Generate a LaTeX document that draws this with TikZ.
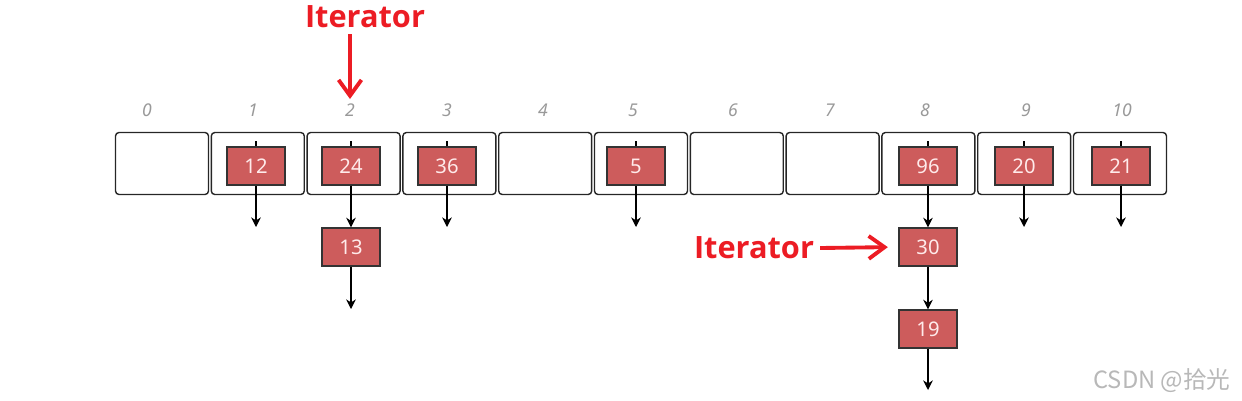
\documentclass[tikz,border=0pt]{standalone}
\usepackage{fontspec}
\setmainfont{Noto Sans}
\newfontfamily\boldsans{Open Sans}
\newfontfamily\cjkfont{Noto Sans CJK SC}
\usetikzlibrary{positioning, arrows.meta}
\definecolor{cellred}{HTML}{CD5C5C}
\definecolor{itred}{HTML}{EC1C24}
\tikzset{
  bucket/.style = {draw=black!85, rectangle, rounded corners=2pt,
                   line width=0.8pt, minimum width=1.86cm,
                   minimum height=1.24cm, inner sep=0pt},
  cell/.style   = {draw=black!80, fill=cellred, rectangle,
                   line width=0.7pt, minimum width=1.16cm,
                   minimum height=0.76cm, inner sep=0pt,
                   text=white!92!red, font=\fontsize{11.5}{13}\selectfont},
  idx/.style    = {text=black!40, font=\itshape\fontsize{10}{11}\selectfont},
  arr/.style    = {-{Stealth[length=5.5pt,width=5.5pt]}, line width=0.7pt},
  stub/.style   = {line width=0.7pt},
  itarr/.style  = {-{Straight Barb[length=9pt,width=13pt]}, draw=itred,
                   line width=2.2pt},
  itlbl/.style  = {text=itred, font=\boldsans\bfseries\fontsize{17.5}{20}\selectfont},
}

\begin{document}
\begin{tikzpicture}[x=0.02cm, y=-0.02cm]

% ────────────────────────────────────────────────────────────
%  Pixel grid: 1242 x 400, y grows downwards
%   index labels : y = 110
%   buckets      : y = 163.5
%   first cells  : y = 166
%   chain row 2  : y = 247
%   chain row 3  : y = 329
% ────────────────────────────────────────────────────────────
\useasboundingbox (0,0) rectangle (1242,400);

% ═══════════════════════════════════════════════════════════
%  BUCKET ARRAY
% ═══════════════════════════════════════════════════════════
\node[bucket] (b0)  at (162.0, 163.5)  {};
\node[bucket] (b1)  at (257.8, 163.5)  {};
\node[bucket] (b2)  at (353.6, 163.5)  {};
\node[bucket] (b3)  at (449.4, 163.5)  {};
\node[bucket] (b4)  at (545.2, 163.5)  {};
\node[bucket] (b5)  at (641.0, 163.5)  {};
\node[bucket] (b6)  at (736.8, 163.5)  {};
\node[bucket] (b7)  at (832.6, 163.5)  {};
\node[bucket] (b8)  at (928.4, 163.5)  {};
\node[bucket] (b9)  at (1024.2, 163.5) {};
\node[bucket] (b10) at (1120.0, 163.5) {};

\node[idx] (l0)  at (147, 110)  {0};
\node[idx] (l1)  at (253, 110)  {1};
\node[idx] (l2)  at (350, 110)  {2};
\node[idx] (l3)  at (447, 110)  {3};
\node[idx] (l4)  at (543, 110)  {4};
\node[idx] (l5)  at (633, 110)  {5};
\node[idx] (l6)  at (733, 110)  {6};
\node[idx] (l7)  at (830, 110)  {7};
\node[idx] (l8)  at (925, 110)  {8};
\node[idx] (l9)  at (1026, 110) {9};
\node[idx] (l10) at (1122, 110) {10};

% ═══════════════════════════════════════════════════════════
%  FIRST NODES IN THE BUCKETS
% ═══════════════════════════════════════════════════════════
\node[cell] (n12) at (256, 166)  {12};
\node[cell] (n24) at (351, 166)  {24};
\node[cell] (n36) at (447, 166)  {36};
\node[cell] (n5)  at (636, 166)  {5};
\node[cell] (n96) at (928, 166)  {96};
\node[cell] (n20) at (1024, 166) {20};
\node[cell] (n21) at (1121, 166) {21};

\draw[stub] (n12.north) -- ++(0,-5);
\draw[stub] (n24.north) -- ++(0,-5);
\draw[stub] (n36.north) -- ++(0,-5);
\draw[stub] (n5.north)  -- ++(0,-5);
\draw[stub] (n96.north) -- ++(0,-5);
\draw[stub] (n20.north) -- ++(0,-5);
\draw[stub] (n21.north) -- ++(0,-5);

% ═══════════════════════════════════════════════════════════
%  CHAINED NODES
% ═══════════════════════════════════════════════════════════
\node[cell] (n13) at (351, 247) {13};
\node[cell] (n30) at (928, 247) {30};
\node[cell] (n19) at (928, 329) {19};

% free ends of the chains
\coordinate (e12) at (256, 227);
\coordinate (e13) at (351, 309);
\coordinate (e36) at (447, 227);
\coordinate (e5)  at (636, 227);
\coordinate (e19) at (928, 390);
\coordinate (e20) at (1024, 227);
\coordinate (e21) at (1121, 227);

\draw[arr] (n12.south) -- (e12);
\draw[arr] (n24.south) -- (n13.north);
\draw[arr] (n13.south) -- (e13);
\draw[arr] (n36.south) -- (e36);
\draw[arr] (n5.south)  -- (e5);
\draw[arr] (n96.south) -- (n30.north);
\draw[arr] (n30.south) -- (n19.north);
\draw[arr] (n19.south) -- (e19);
\draw[arr] (n20.south) -- (e20);
\draw[arr] (n21.south) -- (e21);

% ═══════════════════════════════════════════════════════════
%  ITERATORS
% ═══════════════════════════════════════════════════════════
\node[itlbl] (it1) at (365, 17) {Iterator};
\coordinate (it1tip) at (350, 99);
\draw[itarr] (it1.south -| it1tip) -- (it1tip);

\node[itlbl] (it2) at (754, 248) {Iterator};
\draw[itarr, shorten >=6pt] (it2.east) -- (n30.west);

% watermark
\node[text=black!28, font=\cjkfont\fontsize{13.5}{15}\selectfont] (wm)
  at (1162, 381) {CSDN @拾光};

\end{tikzpicture}
\end{document}
